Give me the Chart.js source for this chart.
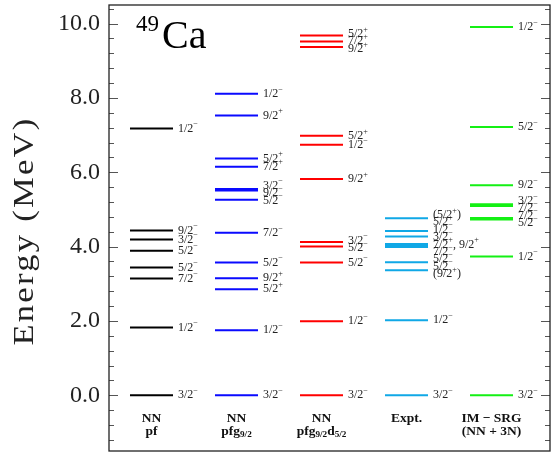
<!DOCTYPE html>
<html>
<head>
<meta charset="utf-8">
<script src="https://cdn.jsdelivr.net/npm/chart.js@4"></script>
<style>
  html, body { margin: 0; padding: 0; background: #fff; }
  canvas { display: block; }
</style>
</head>
<body>
<canvas id="levelChart" width="552" height="454"></canvas>
<script>
// 49Ca level scheme: energies in MeV, one list per calculation
const columnNames = [
    ['NN', 'pf'],
    ['NN', 'pfg_{9/2}'],
    ['NN', 'pfg_{9/2}d_{5/2}'],
    ['Expt.'],
    ['IM \u2212 SRG', '(NN + 3N)']
];

const pfEnergies = [0, 1.82, 3.14, 3.44, 3.89, 4.19, 4.43, 7.18];
const pfSpins = ['3/2-', '1/2-', '7/2-', '5/2-', '5/2-', '3/2-', '9/2-', '1/2-'];

const pfg9Energies = [0, 1.75, 2.85, 3.15, 3.57, 4.37, 5.26, 5.51, 5.55, 6.15, 6.37, 7.53, 8.11];
const pfg9Spins = ['3/2-', '1/2-', '5/2+', '9/2+', '5/2-', '7/2-', '5/2-', '9/2-', '3/2-', '7/2+', '5/2+', '9/2+', '1/2-'];

const pfg9d5Energies = [0, 1.99, 3.57, 4.00, 4.12, 5.82, 6.74, 6.98, 9.37, 9.52, 9.68];
const pfg9d5Spins = ['3/2-', '1/2-', '5/2-', '5/2-', '3/2-', '9/2+', '1/2-', '5/2+', '9/2+', '7/2+', '5/2+'];

const exptEnergies = [0, 2.02, 3.36, 3.58, 3.99, 4.02, 4.05, 4.07, 4.27, 4.42, 4.76];
const exptSpins = ['3/2-', '1/2-', '(9/2+)', '5/2-', '5/2-', '7/2-', '7/2+, 9/2+', '3/2-', '1/2-', '5/2+', '(5/2+)'];

const imsrgEnergies = [0, 3.73, 4.73, 4.77, 5.09, 5.14, 5.65, 7.22, 9.91];
const imsrgSpins = ['3/2-', '1/2-', '5/2-', '7/2-', '7/2-', '3/2-', '9/2-', '5/2-', '1/2-'];

const yTicks = [0, 2, 4, 6, 8, 10];

const columns = [
    { energies: pfEnergies, spins: pfSpins, color: '#000000' },
    { energies: pfg9Energies, spins: pfg9Spins, color: '#0a0aff' },
    { energies: pfg9d5Energies, spins: pfg9d5Spins, color: '#ff0000' },
    { energies: exptEnergies, spins: exptSpins, color: '#10a8e6' },
    { energies: imsrgEnergies, spins: imsrgSpins, color: '#14f014' }
];

const halfWidth = 0.253;
const serif = '"Liberation Serif", "DejaVu Serif", serif';

// each level is a short segment; null points break the line between levels
const datasets = columns.map((col, i) => {
    const pts = [];
    col.energies.forEach(e => {
        pts.push({ x: i - halfWidth, y: e });
        pts.push({ x: i + halfWidth, y: e });
        pts.push({ x: i, y: null });
    });
    return {
        data: pts,
        borderColor: col.color,
        borderWidth: 2,
        pointRadius: 0,
        fill: false,
        spanGaps: false
    };
});

function parseSpin(s) {
    const parts = [];
    s.split(/([+-])/).forEach(tok => {
        if (!tok) return;
        if (tok === '+' || tok === '-') parts.push({ t: tok === '-' ? '\u2212' : '+', sup: true });
        else parts.push({ t: tok });
    });
    return parts;
}

function parseName(s) {
    return s.split(/_\{([^}]*)\}/).map((t, k) => ({ t: t, sub: k % 2 === 1 })).filter(p => p.t);
}

function drawRich(ctx, parts, x, y, size, bold, align) {
    const fontFor = p => (bold ? 'bold ' : '') + ((p.sup || p.sub) ? size * 0.68 : size) + 'px ' + serif;
    let total = 0;
    parts.forEach(p => { ctx.font = fontFor(p); p.w = ctx.measureText(p.t).width; total += p.w; });
    let cx = align === 'center' ? x - total / 2 : x;
    parts.forEach(p => {
        ctx.font = fontFor(p);
        const dy = p.sup ? -size * 0.36 : (p.sub ? size * 0.22 : 0);
        ctx.fillText(p.t, cx, y + dy);
        cx += p.w;
    });
}

// push overlapping labels apart, keeping each cluster centred on its levels
function spread(ys, gap) {
    let groups = ys.map(v => ({ vals: [v], pos: v }));
    let changed = true;
    while (changed) {
        changed = false;
        for (let i = 0; i < groups.length - 1; i++) {
            const g1 = groups[i], g2 = groups[i + 1];
            if (g1.pos + g1.vals.length * gap > g2.pos + 1e-6) {
                const vals = g1.vals.concat(g2.vals);
                const pos = vals.reduce((s, v, k) => s + v - k * gap, 0) / vals.length;
                groups.splice(i, 2, { vals: vals, pos: pos });
                changed = true;
                break;
            }
        }
    }
    return groups.flatMap(g => g.vals.map((v, k) => g.pos + k * gap));
}

const levelPlugin = {
    id: 'levels',
    afterDatasetsDraw(chart) {
        const { ctx, chartArea: a, scales: { x, y } } = chart;
        ctx.save();

        // inward ticks on both sides
        ctx.strokeStyle = '#555';
        ctx.lineWidth = 1;
        for (let k = -3; k <= 26; k++) {
            const v = k * 0.4;
            if (v < y.min || v > y.max) continue;
            const major = k % 5 === 0;
            const len = major ? 9 : 5;
            const py = Math.round(y.getPixelForValue(v)) + 0.5;
            ctx.beginPath();
            ctx.moveTo(a.left, py); ctx.lineTo(a.left + len, py);
            ctx.moveTo(a.right, py); ctx.lineTo(a.right - len, py);
            ctx.stroke();
        }

        // frame
        ctx.strokeStyle = '#222';
        ctx.lineWidth = 1.3;
        ctx.strokeRect(a.left, a.top, a.right - a.left, a.bottom - a.top);

        // spin labels
        ctx.fillStyle = '#222';
        ctx.textBaseline = 'middle';
        columns.forEach((col, i) => {
            const order = col.energies.map((e, k) => k).sort((p, q) => col.energies[q] - col.energies[p]);
            const pys = order.map(k => y.getPixelForValue(col.energies[k]));
            const placed = spread(pys, 7.4);
            const lx = x.getPixelForValue(i + halfWidth) + 5;
            order.forEach((k, j) => {
                drawRich(ctx, parseSpin(col.spins[k]), lx, placed[j], 12, false, 'left');
            });
        });

        // column names
        ctx.fillStyle = '#111';
        columnNames.forEach((lines, i) => {
            const cx = x.getPixelForValue(i);
            lines.forEach((line, j) => {
                drawRich(ctx, parseName(line), cx, a.bottom - 32 + j * 12.5, 13.5, true, 'center');
            });
        });

        // axis title, drawn by hand to match the wide original lettering
        ctx.save();
        ctx.fillStyle = '#222';
        ctx.textAlign = 'center';
        ctx.textBaseline = 'middle';
        ctx.font = '30px ' + serif;
        ctx.letterSpacing = '2px';
        ctx.translate(25, (a.top + a.bottom) / 2 + 3);
        ctx.rotate(-Math.PI / 2);
        ctx.scale(1.15, 1);
        ctx.fillText('Energy (MeV)', 0, 0);
        ctx.restore();

        // nucleus
        ctx.fillStyle = '#000';
        ctx.textBaseline = 'alphabetic';
        ctx.font = '23px ' + serif;
        ctx.fillText('49', 136, 31);
        ctx.font = '40px ' + serif;
        ctx.fillText('Ca', 162, 48);

        ctx.restore();
    }
};

const ctx = document.getElementById('levelChart').getContext('2d');
const levelChart = new Chart(ctx, {
    type: 'line',
    data: { datasets: datasets },
    options: {
        responsive: false,
        animation: false,
        devicePixelRatio: 1,
        layout: { padding: { left: 0, top: 5, right: 2, bottom: 3 } },
        scales: {
            x: {
                type: 'linear',
                min: -0.5,
                max: 4.688,
                display: false
            },
            y: {
                min: -1.5,
                max: 10.5,
                afterBuildTicks: scale => { scale.ticks = yTicks.map(v => ({ value: v })); },
                afterFit: scale => {
                    scale.width = 109;
                    scale.paddingTop = 0;
                    scale.paddingBottom = 0;
                },
                grid: { display: false, drawTicks: false },
                border: { display: false },
                ticks: {
                    padding: 9,
                    color: '#222',
                    font: { family: serif, size: 24 },
                    callback: v => v.toFixed(1)
                }
            }
        },
        plugins: {
            legend: { display: false },
            tooltip: { enabled: false }
        }
    },
    plugins: [levelPlugin]
});
</script>
</body>
</html>
